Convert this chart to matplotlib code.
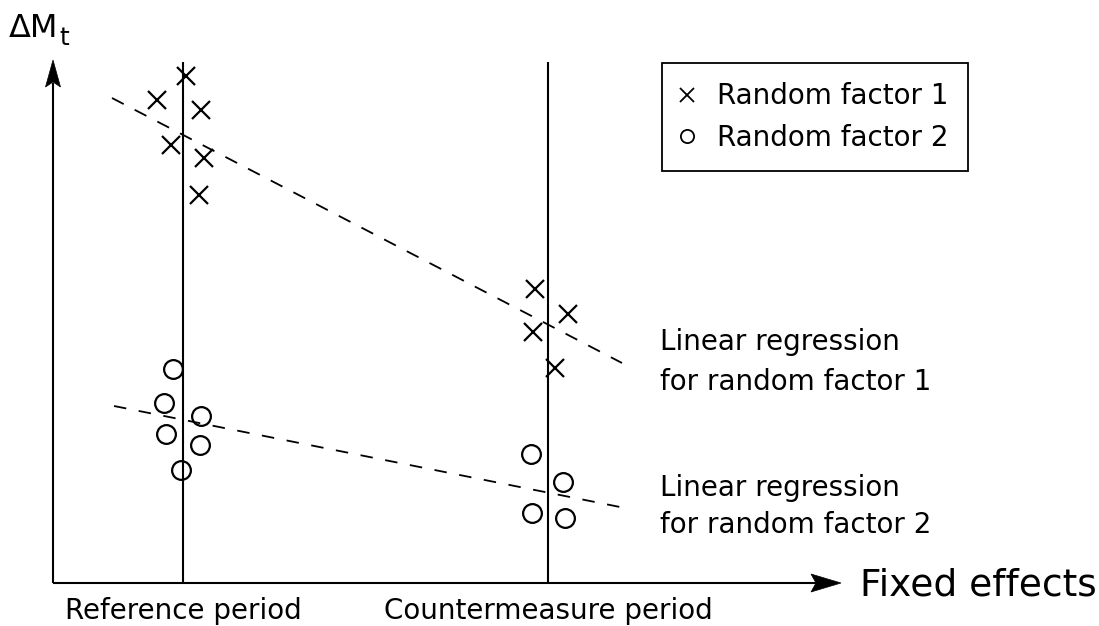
import matplotlib
matplotlib.use("Agg")
import matplotlib.pyplot as plt
from matplotlib.lines import Line2D
from matplotlib.patches import Polygon

plt.rcParams['font.family'] = ['DejaVu Sans']

# ---- data (arbitrary units) ----
period_labels = ["Reference period", "Countermeasure period"]
period_x = [130, 495]
period_top = 521

rf1_x = [133, 104, 148, 118, 151, 146, 482, 515, 480, 502]
rf1_y = [507, 483, 473, 438, 425, 388, 294, 269, 251, 215]

rf2_x = [120, 111, 148, 113, 147, 128, 478, 510, 479, 512]
rf2_y = [214, 180, 167, 149, 138, 113, 129, 101, 70, 65]

reg1_x = [59, 569]
reg1_y = [485, 220]
reg2_x = [61, 567]
reg2_y = [177, 76]

reg_labels = ["Linear regression\nfor random factor 1",
              "Linear regression\nfor random factor 2"]
legend_labels = ["Random factor 1", "Random factor 2"]
x_label = "Fixed effects"
y_label_main, y_label_sub = "ΔM", "t"

W, H = 1099, 626
fig = plt.figure(figsize=(W / 100, H / 100), dpi=100)
ax = fig.add_axes([0, 0, 1, 1])
ax.set_xlim(-53, W - 53)
ax.set_ylim(583 - H, 583)
ax.axis('off')

lw_axis = 1.5
# axes lines
ax.plot([0, 0], [0, 500], color='black', lw=lw_axis, solid_capstyle='butt')
ax.plot([0, 764], [0, 0], color='black', lw=lw_axis, solid_capstyle='butt')
# arrow heads (stealth style)
ax.add_patch(Polygon([[0, 523], [-7.5, 496], [0, 501], [7.5, 496]], closed=True,
                     facecolor='black', edgecolor='black', lw=0.5))
ax.add_patch(Polygon([[788, 0], [758, 9], [763, 0], [758, -9]], closed=True,
                     facecolor='black', edgecolor='black', lw=0.5))

# period vertical lines
for px in period_x:
    ax.plot([px, px], [0, period_top], color='black', lw=1.5, solid_capstyle='butt')

# regression lines
lw_d = 1.3
ax.plot(reg1_x, reg1_y, color='black', lw=lw_d, ls=(0, (9.5 / lw_d, 8.9 / lw_d)))
ax.plot(reg2_x, reg2_y, color='black', lw=lw_d, ls=(0, (9.0 / lw_d, 9.1 / lw_d)))

# markers
ax.plot(rf1_x, rf1_y, ls='none', marker='x', ms=13, mew=1.6, color='black')
ax.plot(rf2_x, rf2_y, ls='none', marker='o', ms=13.5, mew=1.6,
        markerfacecolor='none', markeredgecolor='black')

fs = 20
# period labels
for px, lab in zip(period_x, period_labels):
    ax.text(px, -36, lab, ha='center', va='baseline', fontsize=fs)

# axis labels
ax.text(807, -12, x_label, ha='left', va='baseline', fontsize=27)
ax.text(-44, 546, y_label_main, ha='left', va='baseline', fontsize=23)
ax.text(6, 538, y_label_sub, ha='left', va='baseline', fontsize=18)

# regression labels (one text per line)
reg_baselines = [[233, 193], [87, 50]]
for lab, ys in zip(reg_labels, reg_baselines):
    for line, yb in zip(lab.split("\n"), ys):
        ax.text(607, yb, line, ha='left', va='baseline', fontsize=fs)

# legend
handles = [Line2D([], [], ls='none', marker='x', ms=9.5, mew=1.3, color='black'),
           Line2D([], [], ls='none', marker='o', ms=9.5, mew=1.3,
                  markerfacecolor='none', markeredgecolor='black')]
leg = ax.legend(handles, legend_labels, loc='upper left',
                bbox_to_anchor=(662 / W, 1 - 63 / H), bbox_transform=fig.transFigure,
                fontsize=fs, frameon=True, fancybox=False, framealpha=1,
                edgecolor='black', handlelength=0.43, handletextpad=0.86,
                borderpad=0.7, labelspacing=0.47, borderaxespad=0)
leg.get_frame().set_linewidth(1.3)

fig.savefig("out.png", dpi=100)
